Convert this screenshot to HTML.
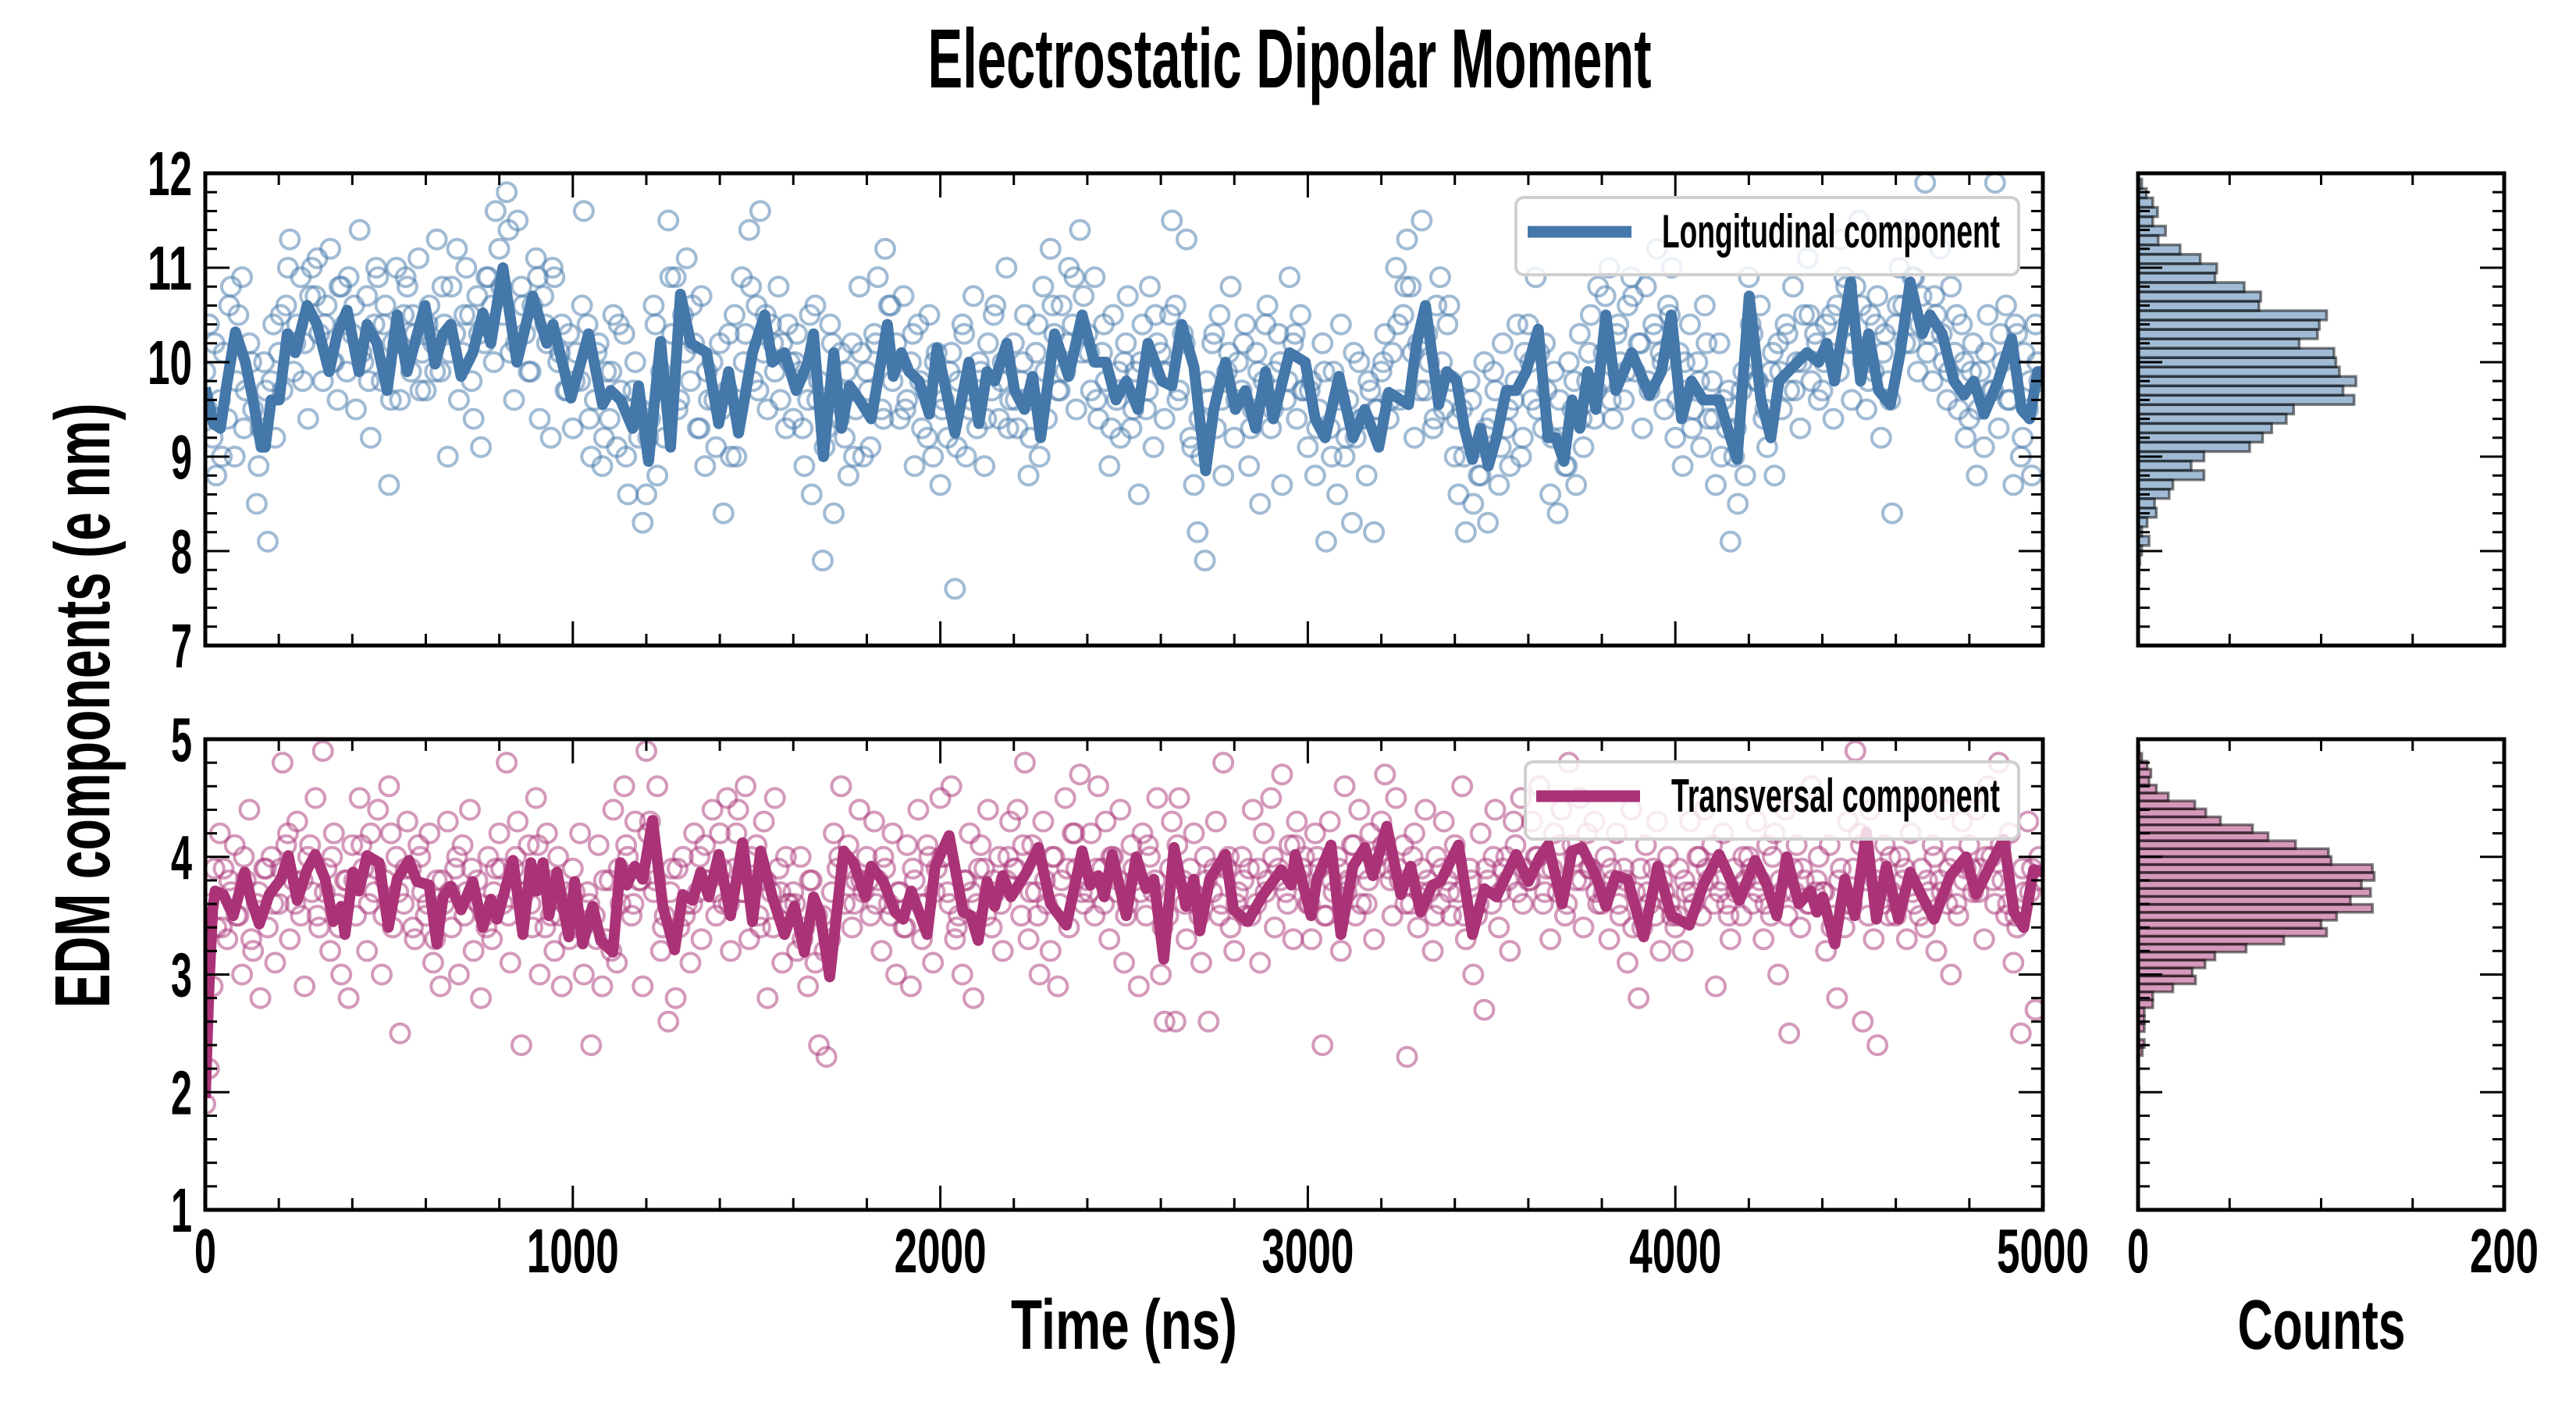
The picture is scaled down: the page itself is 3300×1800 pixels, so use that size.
<!DOCTYPE html>
<html><head><meta charset="utf-8"><style>
html,body{margin:0;padding:0;background:#fff;width:3300px;height:1800px;overflow:hidden}
svg{display:block}
text{font-family:"Liberation Sans",sans-serif;font-weight:bold;fill:#000}
</style></head><body>
<svg id="chart" width="3300" height="1800" viewBox="0 0 3300 1800" xmlns="http://www.w3.org/2000/svg">
<defs>
<clipPath id="clipTop"><rect x="263" y="222" width="2354" height="605"/></clipPath>
<clipPath id="clipBot"><rect x="263" y="947" width="2354" height="603"/></clipPath>
</defs>
<text x="1652" y="112" font-size="108" text-anchor="middle" textLength="927" lengthAdjust="spacingAndGlyphs">Electrostatic Dipolar Moment</text>
<text transform="translate(140,904) rotate(-90)" font-size="100" text-anchor="middle" textLength="775" lengthAdjust="spacingAndGlyphs">EDM components (e nm)</text>
<text x="1440" y="1728" font-size="90" text-anchor="middle" textLength="290" lengthAdjust="spacingAndGlyphs">Time (ns)</text>
<text x="2974" y="1728" font-size="90" text-anchor="middle" textLength="215" lengthAdjust="spacingAndGlyphs">Counts</text>
<g id="layer"></g>
</svg>
<script>
// ---- data ----
const timeTicks = [0,1000,2000,3000,4000,5000];
const topYTicks = [7,8,9,10,11,12];
const botYTicks = [1,2,3,4,5];
const countTicks = [0,200];
const scatterStep = 10;
const scatterStepB = 20;
const scatterOffsetB = 5;
const longScatter = [
9.9,10.4,9.2,8.8,9.6,10.1,9.4,10.8,9.0,10.5,10.9,9.7,10.2,9.5,8.5,9.3,10.0,8.1,9.8,9.2,
10.1,9.7,10.6,11.3,9.9,10.4,10.9,10.2,9.4,11.0,10.7,10.3,9.8,10.6,11.2,10.0,9.6,10.8,10.4,10.9,
10.3,9.5,11.4,10.0,10.7,9.2,10.4,10.9,9.8,10.6,8.7,10.2,11.0,9.6,10.5,10.8,9.9,10.3,11.1,10.1,
9.7,10.6,10.2,11.3,9.9,10.4,9.0,10.8,10.3,9.6,10.1,11.0,10.5,9.4,10.7,9.1,10.2,10.9,10.6,11.6,
11.2,10.5,11.8,10.1,9.6,11.5,10.8,10.3,9.9,10.6,11.1,9.4,10.7,10.2,9.2,10.9,10.0,10.4,9.7,10.3,
9.3,10.1,9.8,11.6,10.4,9.0,9.6,10.2,8.9,9.9,9.4,10.5,9.1,9.7,10.3,8.6,9.5,10.0,9.2,8.3,
8.6,9.4,10.6,8.8,9.9,9.2,11.5,10.3,10.9,9.6,10.5,11.1,9.8,10.2,9.3,10.7,8.9,9.6,10.0,9.1,
10.2,8.4,9.7,9.0,10.5,9.6,10.9,10.3,11.4,9.8,10.6,11.6,10.1,9.5,10.4,9.9,10.8,10.2,9.3,10.0,
9.4,10.3,9.9,8.9,9.6,8.6,10.6,9.8,7.9,9.3,10.4,8.4,9.7,10.1,9.2,8.8,10.2,9.5,10.8,9.0,
9.9,9.1,10.3,10.9,9.5,11.2,10.6,9.8,10.2,9.4,10.7,9.6,10.0,8.9,10.4,9.3,9.7,10.5,9.0,10.1,
8.7,9.6,9.2,10.1,7.6,9.8,10.4,9.0,9.5,10.7,9.3,9.9,8.9,10.2,9.7,10.6,9.4,10.0,11.0,9.6,
10.2,9.3,9.8,10.5,8.8,9.6,10.1,9.0,10.8,9.4,11.2,10.3,9.7,10.6,9.9,11.0,10.4,9.5,11.4,10.7,
10.3,9.7,10.9,9.4,10.1,9.8,8.9,10.5,9.6,9.2,10.0,10.7,9.3,9.9,8.6,10.4,9.5,10.8,9.1,10.2,
10.1,9.4,9.9,11.5,10.6,9.7,10.3,11.3,9.2,8.7,8.2,9.0,7.9,9.6,10.2,9.3,10.5,8.8,9.9,10.8,
9.2,10.0,9.7,10.4,8.9,9.5,10.1,8.5,9.8,10.6,9.3,9.9,10.3,8.7,9.6,10.9,10.2,9.4,10.5,9.7,
9.1,9.8,8.8,9.5,10.2,8.1,9.3,9.9,8.6,10.4,9.0,9.6,8.3,9.2,10.0,9.4,8.8,9.7,8.2,9.5,
9.9,10.3,9.4,10.1,11.0,9.6,10.5,11.3,10.8,9.2,10.2,11.5,9.7,10.0,9.3,10.6,10.9,9.5,10.4,9.8,
9.0,8.6,9.5,8.2,9.8,8.5,9.1,8.8,10.0,8.3,9.4,9.7,8.7,10.2,9.3,8.9,9.6,10.4,9.0,10.1,
10.4,9.6,10.9,10.1,9.3,9.7,8.6,9.9,8.4,9.2,8.9,10.0,9.5,8.7,10.3,9.1,9.8,10.5,9.4,10.8,
9.8,10.7,11.0,9.4,10.3,10.0,9.6,10.6,10.9,9.9,10.2,9.3,10.8,9.7,10.4,11.2,10.1,9.5,10.6,11.0,
9.2,10.1,8.9,9.7,10.4,9.5,10.0,9.1,10.6,9.4,9.8,8.7,10.2,9.6,9.3,8.1,9.0,8.5,9.7,8.8,
10.9,10.3,9.8,10.6,9.4,9.1,9.9,8.8,10.2,9.5,10.4,9.7,10.8,10.0,9.3,10.5,11.1,9.8,10.3,9.6,
9.7,10.4,10.1,9.4,10.6,11.3,10.9,10.2,9.6,10.8,11.5,10.0,9.5,10.5,9.9,10.7,9.2,10.3,9.8,8.4,
10.4,11.0,10.6,11.4,10.2,10.9,9.9,10.7,11.9,10.3,9.8,10.5,11.2,10.0,9.6,10.8,10.1,9.5,10.4,9.2,
9.4,10.2,8.8,9.9,9.1,10.5,9.7,11.9,9.3,10.0,10.6,9.6,8.7,10.3,9.0,10.1,9.5,8.8,10.4,9.8];
const longScatterB = [
9.5,10.2,9.0,10.6,9.8,9.3,10.0,8.9,9.7,10.4,
10.5,11.0,10.2,9.8,10.7,11.1,10.4,10.0,10.8,9.9,
10.6,10.1,9.8,11.0,10.4,9.6,10.2,10.9,10.5,9.7,
10.4,9.9,10.8,10.1,11.2,10.5,9.8,10.3,10.9,10.0,
10.8,11.4,10.2,10.6,9.9,10.9,10.4,11.0,10.1,9.7,
9.8,10.6,9.4,10.1,9.2,9.9,10.4,9.0,9.7,9.5,
9.2,10.4,9.7,10.9,9.5,10.1,10.6,9.3,9.9,9.6,
9.5,10.3,9.0,10.0,10.8,9.7,10.5,10.2,9.6,10.4,
10.0,9.3,10.5,9.6,9.1,10.2,9.4,9.9,9.0,10.1,
9.7,10.2,9.4,10.6,10.0,9.5,10.3,9.8,9.2,10.0,
9.5,9.9,9.1,10.3,9.6,10.0,9.4,10.5,9.8,9.3,
9.6,10.0,9.2,10.4,9.9,10.6,9.7,10.2,10.9,10.1,
10.1,9.6,10.4,9.3,9.9,10.2,9.5,10.0,9.7,10.5,
9.9,10.5,9.6,10.2,9.1,9.4,9.8,10.3,9.6,10.1,
9.6,10.2,9.3,9.9,10.4,9.5,10.0,9.8,10.3,9.7,
9.7,9.3,9.9,9.0,9.6,9.2,10.1,9.4,9.8,9.5,
10.0,9.6,10.4,10.8,10.1,9.7,10.3,9.4,10.0,10.6,
9.4,9.0,9.6,8.8,9.3,9.9,9.1,9.5,9.8,9.2,
10.0,9.5,10.2,9.2,9.6,8.9,9.8,9.4,10.1,9.7,
10.1,9.6,10.4,9.9,10.7,10.2,9.8,10.3,10.0,10.5,
9.6,10.0,9.3,9.8,10.2,9.4,9.0,9.7,9.3,9.9,
10.4,9.8,9.5,10.1,9.9,10.3,9.7,10.0,10.5,10.2,
10.0,10.5,9.9,10.8,10.2,10.6,9.8,10.4,10.1,9.6,
10.6,10.2,10.9,10.4,10.1,10.7,10.3,9.9,10.5,10.0,
9.9,9.5,10.1,9.7,10.3,9.6,10.4,9.2,9.8,10.0];
const transScatter = [
1.9,2.2,2.9,3.4,4.2,3.9,3.3,3.7,4.1,3.5,3.0,3.8,4.4,3.2,3.6,2.8,3.9,3.4,4.0,3.1,
3.6,4.8,4.1,3.3,3.8,4.3,3.5,2.9,4.0,3.7,4.5,3.4,4.9,3.9,3.2,4.2,3.6,3.0,3.8,2.8,
4.1,3.5,4.5,3.9,3.2,4.2,3.7,4.4,3.0,3.8,4.6,3.4,4.0,2.5,3.6,4.3,3.9,3.3,4.1,3.7,
3.5,4.2,3.1,3.8,2.9,3.6,4.3,3.4,3.9,3.0,4.1,3.7,4.4,3.2,3.8,2.8,3.5,4.0,3.3,3.9,
4.2,3.6,4.8,3.1,3.9,4.3,2.4,3.7,4.1,3.4,4.5,3.0,3.8,4.2,3.5,3.2,4.0,2.9,3.6,3.3,
3.9,3.4,4.2,3.0,3.7,2.4,3.5,4.1,2.9,3.3,3.8,4.4,3.1,3.6,4.6,4.0,3.5,4.3,3.8,2.9,
4.9,4.3,3.7,4.6,3.2,3.5,2.6,3.9,2.8,3.4,4.0,3.6,3.1,4.2,3.7,3.3,4.1,3.8,4.4,3.5,
4.2,3.6,4.5,3.2,3.9,4.4,3.7,4.6,3.3,3.8,4.1,3.4,4.3,2.8,3.7,4.5,3.9,3.1,4.0,3.6,
3.7,3.2,4.0,3.4,2.9,3.8,3.1,2.4,3.5,2.3,3.3,4.2,3.9,4.6,3.6,4.1,3.4,3.8,4.4,3.7,
4.0,3.5,4.3,3.8,3.2,3.9,3.6,4.2,3.0,3.7,3.4,4.1,2.9,3.8,4.4,3.3,3.6,4.0,3.1,3.9,
4.5,4.0,3.7,4.6,3.3,3.5,3.0,3.8,4.2,2.8,3.6,4.1,3.9,4.4,3.4,3.7,4.0,3.2,3.8,4.3,
3.9,4.4,3.5,4.8,3.3,4.1,3.7,3.0,4.3,3.6,3.2,4.0,2.9,3.8,4.5,3.4,4.2,3.9,4.7,3.6,
3.8,4.2,3.5,4.6,3.9,4.3,3.3,4.0,3.7,4.4,3.1,3.6,4.1,3.8,2.9,4.2,3.5,4.0,3.7,4.5,
3.0,2.6,3.5,4.3,2.6,4.5,3.8,3.3,3.9,4.2,3.6,3.1,4.0,2.6,3.7,4.3,3.5,4.8,3.9,3.4,
3.2,3.7,4.0,3.5,3.9,4.4,3.6,3.1,4.2,3.8,4.5,3.4,3.9,4.7,3.7,4.1,3.3,4.3,3.8,4.0,
3.6,3.3,4.2,3.9,2.4,3.5,4.3,3.7,4.0,3.2,4.6,3.8,4.1,3.5,4.4,3.9,3.6,4.2,3.3,4.0,
4.3,4.7,3.9,3.5,4.5,3.8,4.1,2.3,3.6,4.2,3.4,3.9,4.4,3.7,3.2,4.0,3.6,4.3,3.8,3.5,
4.1,3.7,4.6,3.3,3.9,3.0,3.5,4.2,2.7,3.8,3.6,4.4,3.4,3.9,4.0,3.2,4.3,3.7,4.5,3.9,
3.8,4.3,4.0,4.6,3.6,3.9,3.3,4.2,3.7,4.4,3.5,4.8,4.1,3.8,4.5,3.4,4.2,3.9,4.3,3.6,
3.6,4.0,3.3,3.8,4.2,3.5,3.9,3.1,4.4,3.7,2.8,3.4,4.1,3.6,3.9,4.3,3.2,3.7,4.0,3.5,
3.4,3.9,3.2,3.7,4.3,3.6,4.0,3.5,4.4,3.8,4.1,2.9,3.7,4.2,3.6,3.3,3.9,4.5,3.5,3.8,
4.0,3.6,4.3,3.8,3.3,4.1,3.5,4.2,3.0,3.7,4.4,2.5,3.9,4.1,3.4,3.8,3.6,4.6,3.7,4.0,
3.7,3.2,4.1,3.5,2.8,3.9,3.4,4.3,3.6,4.9,4.2,2.6,3.8,4.4,3.3,2.4,3.9,4.1,3.5,3.7,
3.5,4.0,3.8,3.3,4.2,3.6,4.5,3.9,3.4,3.7,4.1,3.2,3.8,4.4,3.6,3.0,4.0,3.5,4.3,3.9,
4.1,3.7,4.4,3.9,3.3,4.6,4.0,3.6,4.8,3.8,3.5,4.2,3.1,3.4,2.5,3.7,4.3,3.9,2.7,4.0];
const transScatterB = [
3.6,3.9,3.4,3.8,3.5,4.0,3.3,3.7,3.9,3.6,
3.9,4.2,3.6,3.8,4.1,3.5,3.7,4.0,3.4,3.8,
3.8,4.1,3.6,3.9,3.5,4.2,3.7,3.9,3.4,4.0,
3.6,3.3,3.8,3.7,4.0,3.5,3.9,3.6,3.4,3.7,
3.9,3.5,4.0,3.7,3.6,4.1,3.4,3.8,3.5,3.7,
3.7,3.4,3.6,3.3,3.8,3.2,3.9,4.1,3.6,3.8,
4.2,3.8,3.4,3.7,3.9,3.5,3.6,4.0,3.8,3.7,
3.9,3.6,4.2,3.7,4.0,3.5,3.8,3.4,3.7,3.6,
3.6,3.3,3.8,3.5,3.2,3.7,4.0,3.9,3.6,3.8,
3.8,3.6,4.0,3.5,3.7,3.4,3.9,3.6,4.1,3.7,
4.0,3.6,3.4,3.8,3.7,3.9,3.5,3.8,3.6,4.0,
3.9,4.1,3.7,3.5,3.8,4.0,3.6,3.9,4.2,3.7,
3.7,3.9,3.6,4.0,3.8,3.5,3.9,3.7,4.1,3.8,
3.4,3.9,4.1,3.6,3.7,3.5,3.8,3.9,3.6,4.0,
3.6,3.8,3.5,3.9,3.7,4.0,3.8,3.6,4.1,3.9,
3.6,4.0,3.5,3.8,3.9,3.7,4.1,3.6,3.8,3.9,
4.1,3.8,3.9,3.6,4.0,3.7,3.8,3.5,3.9,3.7,
3.9,3.5,3.8,3.6,3.9,4.0,3.7,3.8,4.1,3.6,
3.8,4.0,3.7,3.9,4.1,3.6,4.0,3.8,3.9,3.7,
3.7,3.9,3.6,3.8,3.4,3.9,3.7,3.5,3.8,3.6,
3.5,3.8,3.7,4.0,3.9,3.6,3.8,3.5,3.7,4.0,
3.9,3.7,3.6,4.0,3.8,3.5,3.7,3.9,3.6,3.8,
3.7,3.4,3.8,3.6,3.9,4.1,3.5,3.8,3.6,4.0,
3.6,3.9,3.7,3.5,3.8,4.0,3.7,3.9,3.6,3.8,
3.9,3.7,4.0,3.8,4.1,3.6,3.5,3.9,3.7,3.8];
const longLine = [[0,9.73],[22,9.35],[41,9.3],[60,9.8],[82,10.32],[109,10.0],[130,9.6],[152,9.1],[163,9.1],[179,9.6],[201,9.6],[223,10.3],[245,10.1],[277,10.6],[304,10.4],[337,9.9],[359,10.3],[386,10.55],[418,9.9],[440,10.4],[467,10.2],[495,9.7],[522,10.5],[549,9.9],[598,10.6],[625,9.98],[647,10.3],[668,10.4],[696,9.85],[728,10.1],[755,10.52],[777,10.2],[810,11.0],[848,10.0],[891,10.7],[929,10.2],[946,10.4],[995,9.62],[1022,10.0],[1043,10.3],[1081,9.55],[1103,9.7],[1130,9.6],[1163,9.3],[1179,9.75],[1206,8.95],[1239,10.22],[1266,9.1],[1293,10.72],[1321,10.2],[1364,10.1],[1397,9.35],[1424,9.9],[1451,9.25],[1489,10.1],[1522,10.5],[1543,10.0],[1576,10.1],[1608,9.7],[1640,10.0],[1655,10.3],[1682,9.0],[1710,10.1],[1731,9.3],[1753,9.75],[1780,9.6],[1812,9.4],[1856,10.4],[1872,9.85],[1894,10.1],[1915,9.9],[1942,9.8],[1970,9.45],[1991,10.15],[2040,9.25],[2078,10.0],[2105,9.35],[2127,9.9],[2148,9.8],[2181,10.2],[2202,9.7],[2229,9.5],[2251,9.85],[2273,9.2],[2311,10.3],[2349,9.85],[2386,10.5],[2419,10.0],[2451,10.0],[2478,9.6],[2506,9.8],[2538,9.5],[2565,10.2],[2603,9.8],[2630,9.75],[2657,10.4],[2690,9.95],[2722,8.85],[2744,9.5],[2776,10.0],[2803,9.5],[2830,9.7],[2858,9.3],[2885,9.9],[2906,9.4],[2950,10.1],[2993,10.0],[3020,9.4],[3047,9.2],[3085,9.85],[3123,9.2],[3155,9.5],[3193,9.1],[3220,9.68],[3274,9.55],[3296,10.2],[3320,10.6],[3356,9.55],[3378,9.9],[3405,9.8],[3426,9.3],[3448,8.97],[3470,9.3],[3491,8.9],[3513,9.2],[3540,9.7],[3567,9.7],[3594,9.9],[3627,10.35],[3654,9.2],[3675,9.2],[3697,8.95],[3719,9.6],[3740,9.3],[3762,9.9],[3784,9.5],[3811,10.5],[3838,9.7],[3881,10.1],[3903,9.9],[3930,9.65],[3962,9.9],[3989,10.5],[4017,9.4],[4044,9.8],[4076,9.6],[4119,9.6],[4168,8.97],[4201,10.7],[4233,9.6],[4260,9.2],[4282,9.8],[4325,9.97],[4358,10.1],[4390,10.0],[4412,10.2],[4433,9.8],[4477,10.85],[4504,9.8],[4526,10.3],[4553,9.7],[4585,9.55],[4612,10.1],[4639,10.85],[4672,10.3],[4693,10.5],[4726,10.3],[4758,9.8],[4785,9.65],[4812,9.8],[4840,9.45],[4878,9.8],[4915,10.25],[4942,9.5],[4964,9.4],[4986,9.9],[5000,9.9]];
const transLine = [[0,1.95],[10,2.9],[20,3.55],[27,3.71],[49,3.68],[76,3.5],[107,3.87],[125,3.63],[147,3.43],[174,3.68],[206,3.81],[226,4.01],[250,3.63],[277,3.89],[299,4.02],[326,3.81],[348,3.45],[370,3.58],[380,3.34],[402,3.87],[418,3.71],[440,4.01],[473,3.95],[498,3.4],[522,3.81],[554,3.97],[576,3.79],[609,3.76],[630,3.26],[647,3.66],[668,3.75],[696,3.55],[728,3.79],[755,3.4],[777,3.64],[794,3.47],[837,3.97],[864,3.34],[886,3.95],[902,3.71],[919,3.95],[935,3.5],[957,3.87],[989,3.32],[1005,3.79],[1027,3.26],[1054,3.58],[1076,3.29],[1109,3.19],[1130,3.95],[1147,3.76],[1169,3.92],[1190,3.81],[1217,4.31],[1245,3.58],[1277,3.21],[1299,3.68],[1326,3.63],[1348,3.87],[1370,3.66],[1397,4.02],[1429,3.5],[1462,4.12],[1489,3.45],[1511,4.05],[1543,3.66],[1576,3.34],[1603,3.58],[1630,3.19],[1655,3.66],[1672,3.53],[1699,2.98],[1737,4.05],[1764,3.95],[1796,3.66],[1812,3.92],[1845,3.79],[1877,3.53],[1899,3.47],[1921,3.71],[1942,3.53],[1964,3.34],[1986,3.92],[2024,4.18],[2062,3.53],[2083,3.5],[2103,3.29],[2127,3.79],[2148,3.58],[2170,3.84],[2192,3.66],[2235,3.87],[2267,4.08],[2300,3.6],[2343,3.42],[2386,4.05],[2408,3.76],[2430,3.84],[2446,3.66],[2468,4.02],[2506,3.5],[2533,4.0],[2560,3.73],[2581,3.81],[2608,3.13],[2636,4.08],[2668,3.58],[2690,3.81],[2706,3.37],[2733,3.81],[2776,4.02],[2798,3.55],[2836,3.45],[2879,3.68],[2928,3.89],[2955,3.76],[2966,4.02],[3009,3.5],[3025,3.81],[3063,4.1],[3090,3.34],[3123,3.92],[3155,4.08],[3177,3.84],[3215,4.26],[3253,3.68],[3280,3.92],[3307,3.53],[3339,3.76],[3361,3.79],[3410,4.1],[3448,3.34],[3480,3.73],[3513,3.66],[3540,3.84],[3567,4.02],[3600,3.79],[3632,4.0],[3654,4.1],[3692,3.6],[3719,4.05],[3746,4.08],[3784,3.84],[3811,3.58],[3838,3.84],[3870,3.81],[3914,3.32],[3952,3.92],[3989,3.5],[4038,3.42],[4076,3.76],[4119,4.02],[4141,3.87],[4174,3.63],[4217,3.97],[4249,3.76],[4276,3.5],[4303,4.0],[4336,3.6],[4368,3.71],[4385,3.53],[4401,3.66],[4434,3.26],[4461,3.81],[4488,3.5],[4520,4.21],[4547,3.47],[4574,3.92],[4607,3.47],[4639,3.87],[4672,3.66],[4704,3.47],[4748,3.84],[4791,4.0],[4818,3.68],[4856,3.92],[4894,4.15],[4921,3.53],[4948,3.4],[4975,3.89],[5000,3.87]];
const longHistStart = 7.66;
const longHistWidth = 0.0995;
const longHistCounts = [0.5,0.5,1,2,6,2,5,10,9,17,19,36,29,36,61,68,73,81,85,118,112,119,110,108,107,88,98,99,103,66,67,58,42,43,34,23,11,15,8,10.6,8,4.5,2];
const transHistStart = 1.974;
const transHistWidth = 0.0676;
const transHistCounts = [0.5,0,0,0,0,2.3,3.4,0,3.4,3.4,3.4,8,8,19,31.4,29.6,36.6,42,59,79.6,103,100,108.5,128,116,127,122,129,128,105.5,104,86,71,62.5,45,37,31,16.5,10,6,7,5,2,0.5];

// ---- layout ----
const NS='http://www.w3.org/2000/svg';
const layer=document.getElementById('layer');
const X0=263,X1=2617,HX0=2739,HX1=3208;
const TOP={y0:222,y1:827,vmin:7,vmax:12};
const BOT={y0:947,y1:1550,vmin:1,vmax:5};
const xT=t=>X0+(t/5000)*(X1-X0);
const xC=c=>HX0+(c/200)*(HX1-HX0);
const yP=(p,v)=>p.y1-(v-p.vmin)/(p.vmax-p.vmin)*(p.y1-p.y0);
function mk(tag,attrs,parent){const e=document.createElementNS(NS,tag);for(const k in attrs)e.setAttribute(k,attrs[k]);(parent||layer).appendChild(e);return e;}

function drawScatter(vals,step,offset,p,color,clip,name){
  const g=mk('g',{'clip-path':'url(#'+clip+')',fill:'none',stroke:color,'stroke-width':4,'stroke-opacity':0.5});
  
  
  vals.forEach((v,i)=>{
    const c=mk('circle',{cx:xT(offset+i*step).toFixed(1),cy:yP(p,v).toFixed(1),r:12},g);
    
    
  });
}
function drawLine(pts,p,color,clip,name){
  const d=pts.map(q=>xT(q[0]).toFixed(1)+','+yP(p,q[1]).toFixed(1)).join(' ');
  const l=mk('polyline',{points:d,fill:'none',stroke:color,'stroke-width':14,'stroke-linejoin':'round','clip-path':'url(#'+clip+')'});
  
  
}
function drawHist(counts,start,w,p,fill,name){
  const g=mk('g',{});
  
  
  counts.forEach((c,i)=>{
    if(c<=0)return;
    const lo=start+i*w,hi=lo+w;
    const r=mk('rect',{x:HX0,y:yP(p,hi).toFixed(1),width:(xC(c)-HX0).toFixed(1),height:(yP(p,lo)-yP(p,hi)).toFixed(1),fill:fill,stroke:'rgba(0,0,0,0.5)','stroke-width':3.5},g);
    
    
  });
}
function tick(x1,y1,x2,y2,name){const t=mk('line',{x1:x1,y1:y1,x2:x2,y2:y2,stroke:'#000','stroke-width':3});}
function axesFrame(xa,xb,p,xMajor,xMinor,name){
  const r=mk('rect',{x:xa,y:p.y0,width:xb-xa,height:p.y1-p.y0,fill:'none',stroke:'#000','stroke-width':5});
  
  
  for(let v=p.vmin;v<=p.vmax+1e-9;v+=0.2){
    const y=yP(p,v);const maj=Math.abs(v-Math.round(v))<1e-6;const L=maj?31:15;
    tick(xa,y,xa+L,y,name+'-ytick');tick(xb,y,xb-L,y,name+'-ytick');
  }
  xMajor.forEach(x=>{tick(x,p.y1,x,p.y1-31,name+'-xtick');tick(x,p.y0,x,p.y0+31,name+'-xtick');});
  xMinor.forEach(x=>{tick(x,p.y1,x,p.y1-15,name+'-xtick');tick(x,p.y0,x,p.y0+15,name+'-xtick');});
}
function label(txt,x,y,anchor,name,len){
  const t=mk('text',{x:x,y:y,'font-size':80,'text-anchor':anchor});
  if(len){t.setAttribute('textLength',len);t.setAttribute('lengthAdjust','spacingAndGlyphs');}
  t.textContent=txt;
  
  
}

// scatter + lines
drawScatter(longScatter,scatterStep,0,TOP,'#4477aa','clipTop','longitudinal-scatter');
drawScatter(longScatterB,scatterStepB,scatterOffsetB,TOP,'#4477aa','clipTop','longitudinal-scatter-b');
drawLine(longLine,TOP,'#4477aa','clipTop','longitudinal-line');
drawScatter(transScatter,scatterStep,0,BOT,'#aa3377','clipBot','transversal-scatter');
drawScatter(transScatterB,scatterStepB,scatterOffsetB,BOT,'#aa3377','clipBot','transversal-scatter-b');
drawLine(transLine,BOT,'#aa3377','clipBot','transversal-line');
// histograms
drawHist(longHistCounts,longHistStart,longHistWidth,TOP,'rgba(68,119,170,0.5)','longitudinal-histogram');
drawHist(transHistCounts,transHistStart,transHistWidth,BOT,'rgba(170,51,119,0.5)','transversal-histogram');

// axes
const tMaj=timeTicks.map(xT);
const tMin=[];for(let t=200;t<5000;t+=200){if(t%1000)tMin.push(xT(t));}
axesFrame(X0,X1,TOP,tMaj,tMin,'top-axes');
axesFrame(X0,X1,BOT,tMaj,tMin,'bottom-axes');
const cMin=[50,100,150].map(xC);
axesFrame(HX0,HX1,TOP,[],cMin,'top-hist-axes');
axesFrame(HX0,HX1,BOT,[],cMin,'bottom-hist-axes');

// tick labels
topYTicks.forEach(v=>label(String(v),246,yP(TOP,v)+28,'end','top-y-tick-label',String(v).length>1?57:27));
botYTicks.forEach(v=>label(String(v),246,yP(BOT,v)+28,'end','bottom-y-tick-label',27));
timeTicks.forEach(t=>label(String(t),xT(t),1630,'middle','x-tick-label',String(t).length>1?118:28));
countTicks.forEach(c=>label(String(c),xC(c),1630,'middle','hist-x-tick-label',String(c).length>1?88:28));

// legends
function legend(x,y,w,h,lx1,lx2,ly,color,txt,tx,tlen,name){
  const g=mk('g',{});
  
  
  mk('rect',{x:x,y:y,width:w,height:h,rx:10,fill:'rgba(255,255,255,0.8)',stroke:'#d0d0d0','stroke-width':4},g);
  mk('line',{x1:lx1,y1:ly,x2:lx2,y2:ly,stroke:color,'stroke-width':15},g);
  const t=mk('text',{x:tx,y:ly+20,'font-size':60,textLength:tlen,lengthAdjust:'spacingAndGlyphs'},g);
  t.textContent=txt;
  
  
}
legend(1942,253,644,99,1957,2090,297,'#4477aa','Longitudinal component',2129,433,'longitudinal-legend');
legend(1954,976,632,99,1968,2101,1020,'#aa3377','Transversal component',2141,421,'transversal-legend');
</script>
</body></html>
